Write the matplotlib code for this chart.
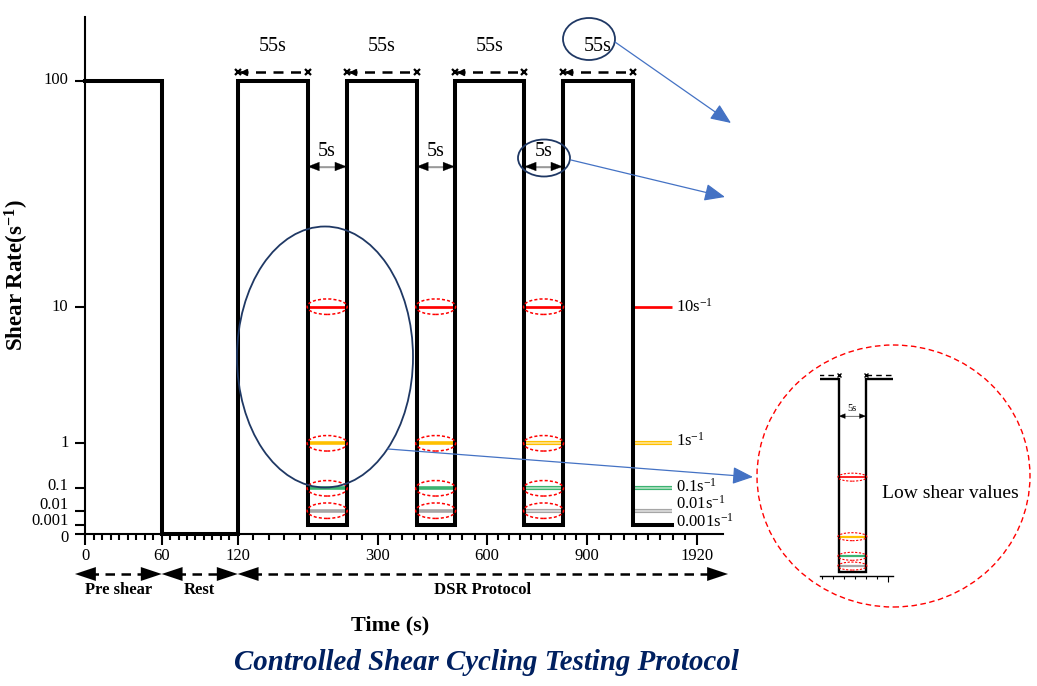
import numpy as np
import matplotlib
matplotlib.use('Agg')
import matplotlib.pyplot as plt
from matplotlib.patches import Ellipse, FancyArrowPatch
from matplotlib.transforms import ScaledTranslation, offset_copy, blended_transform_factory

# ---------------- data ----------------
x_tick_values = [0, 60, 120, 300, 600, 900, 1920]
x_tick_labels = ['0', '60', '120', '300', '600', '900', '1920']
y_tick_values = [0, 0.001, 0.01, 0.1, 1, 10, 100]
y_tick_labels = ['0', '0.001', '0.01', '0.1', '1', '10', '100']

preshear_rate = 100
preshear_end = 60
rest_rate = 0
pulse_on = [120, 260, 512, 827]
pulse_off = [210, 407, 713, 1327]
pulse_rate = 100
base_rate = 0.001
end_time = 1685
pulse_text = ['55s', '55s', '55s', '55s']
gap_text = ['5s', '5s', '5s']

low_rates = [10, 1, 0.1, 0.01]
low_colors = ['#ff0000', '#ffc000', '#3cb371', '#a6a6a6']
low_light = ['#ff0000', '#ffe699', '#b7e4c7', '#dedede']
rate_label_values = [10, 1, 0.1, 0.01, 0.001]
rate_labels = ['10s$^{-1}$', '1s$^{-1}$', '0.1s$^{-1}$', '0.01s$^{-1}$', '0.001s$^{-1}$']

phase_labels = ['Pre shear', 'Rest', 'DSR Protocol']
phase_start = [0, 60, 120]
phase_end = [60, 120, 1920]

# step profile built from the protocol
step_times = [0, preshear_end]
step_rates = [preshear_rate, rest_rate]
for on, off in zip(pulse_on, pulse_off):
    step_times += [on, off]
    step_rates += [pulse_rate, base_rate]
step_times.append(end_time)
step_rates.append(base_rate)

# ---------------- layout ----------------
W, H, DPI = 1037, 686, 100
AX_L, AX_B = 85.0, 533.5
AX_W, AX_H = 638.0, 516.5
X_MAP_V = [-100] + x_tick_values + [4000]
X_MAP_P = [-127.8, 0, 76.7, 152.7, 292.7, 401.7, 502.0, 612.0, 836.2]
Y_MAP_V = [-1] + y_tick_values + [1000]
Y_MAP_P = [-8500, 0, 8.5, 22.8, 45.2, 90.2, 226.8, 453.0, 679.2]
Y_LABEL_DY = [-4.5, 4, 5.5, 2, 0, 0, 0]
RATE_LABEL_DY = [0, 3, 2, 7, 3]


def fx(v):
    return np.interp(v, X_MAP_V, X_MAP_P)


def ix(p):
    return np.interp(p, X_MAP_P, X_MAP_V)


def fy(v):
    return np.interp(v, Y_MAP_V, Y_MAP_P)


def iy(p):
    return np.interp(p, Y_MAP_P, Y_MAP_V)


def P(x, y):
    return (x / W, 1 - y / H)


plt.rcParams['font.family'] = ['Liberation Serif', 'DejaVu Serif']
plt.rcParams['mathtext.fontset'] = 'custom'
plt.rcParams['mathtext.rm'] = 'Liberation Serif'
plt.rcParams['mathtext.it'] = 'Liberation Serif:italic'
plt.rcParams['mathtext.bf'] = 'Liberation Serif:bold'

fig = plt.figure(figsize=(W / DPI, H / DPI), dpi=DPI)
ax = fig.add_axes([AX_L / W, 1 - AX_B / H, AX_W / W, AX_H / H])
ax.set_xscale('function', functions=(fx, ix))
ax.set_yscale('function', functions=(fy, iy))
ax.patch.set_alpha(0)


def gap_center(g):
    return float(ix((fx(pulse_off[g]) + fx(pulse_on[g + 1])) / 2))


def pulse_center(p):
    return float(ix((fx(pulse_on[p]) + fx(pulse_off[p])) / 2))


def level_line(a, x0, x1, r, c, cl, lw, outline):
    if r == 10:
        a.plot([x0, x1], [r, r], color=c, lw=lw * 0.75, zorder=3, solid_capstyle='butt')
    elif outline:
        a.plot([x0, x1], [r, r], color=c, lw=lw + 0.4, zorder=3, solid_capstyle='butt')
        a.plot([x0, x1], [r, r], color=cl, lw=lw * 0.45, zorder=3, solid_capstyle='butt')
    else:
        a.plot([x0, x1], [r, r], color=c, lw=lw, zorder=3, solid_capstyle='butt')


def draw_protocol(a, gaps, pulses, st):
    a.plot(step_times, step_rates, drawstyle='steps-post', color='k', lw=st['lw'],
           solid_joinstyle='miter', clip_on=st['clip'], zorder=5)
    for g in gaps:
        x0, x1 = pulse_off[g], pulse_on[g + 1]
        cx = gap_center(g)
        for r, c, cl in zip(low_rates, low_colors, low_light):
            level_line(a, x0, x1, r, c, cl, st['col_lw'], g in st['outline_gaps'])
            e = Ellipse((0, 0), st['ell_w'] / DPI, st['ell_h'] / DPI,
                        transform=fig.dpi_scale_trans + ScaledTranslation(cx, r, a.transData),
                        fill=False, ec='#ff0000', lw=st['ell_lw'], ls=(0, (2, 1.4)), zorder=6)
            a.add_artist(e)
        tr_a = offset_copy(a.transData, fig=fig, y=st['gap_arrow_dy'], units='dots')
        a.plot([x0, x1], [pulse_rate] * 2, color='0.6', lw=st['gap_lw'], transform=tr_a, zorder=4)
        a.annotate('', xy=(x1, pulse_rate), xytext=(x0, pulse_rate), xycoords=tr_a, textcoords=tr_a,
                   arrowprops=dict(arrowstyle='<|-|>,head_length=0.9,head_width=0.35',
                                   mutation_scale=st['gap_ms'], color='k', lw=0.2,
                                   shrinkA=0, shrinkB=0), zorder=6)
        tr_t = offset_copy(a.transData, fig=fig, y=st['gap_text_dy'], units='dots')
        a.text(cx, pulse_rate, gap_text[g], transform=tr_t, ha='center', va='center',
               fontsize=st['gap_fs'])
    for p in pulses:
        tr_d = offset_copy(a.transData, fig=fig, y=st['dur_dy'], units='dots')
        a.plot([pulse_on[p], pulse_off[p]], [pulse_rate] * 2, color='k', lw=st['dur_lw'],
               ls=(0, (4, 3)), transform=tr_d, clip_on=st['clip'])
        a.plot([pulse_on[p], pulse_off[p]], [pulse_rate] * 2, ls='none', marker='x',
               ms=st['x_ms'], mew=st['x_mew'], color='k', transform=tr_d, clip_on=st['clip'])


main_style = dict(lw=2.9, col_lw=2.6, ell_w=40, ell_h=15.5, ell_lw=1.1, gap_arrow_dy=-86,
                  gap_text_dy=-71, gap_fs=14.5, gap_ms=9, gap_lw=1.0, dur_dy=9, dur_lw=1.8,
                  x_ms=5, x_mew=1.6, clip=False, outline_gaps=[2])
inset_style = dict(lw=1.7, col_lw=1.6, ell_w=29, ell_h=8, ell_lw=0.8, gap_arrow_dy=-37.5,
                   gap_text_dy=-30, gap_fs=7.5, gap_ms=5, gap_lw=0.6, dur_dy=3.7, dur_lw=1.0,
                   x_ms=3, x_mew=1.0, clip=True, outline_gaps=[])

draw_protocol(ax, [0, 1, 2], [0, 1, 2, 3], main_style)

# 55s labels and arrowheads on the duration lines
for p in range(len(pulse_on)):
    tr = offset_copy(ax.transData, fig=fig, y=34, units='dots')
    ax.text(pulse_center(p), pulse_rate, pulse_text[p], transform=tr, ha='center',
            va='center', fontsize=14.5)
    tr_h = offset_copy(ax.transData, fig=fig, x=6, y=9, units='dots')
    ax.plot([pulse_on[p]], [pulse_rate], marker='<', ms=5, color='k', transform=tr_h,
            clip_on=False)

# legend-like level lines at the right
for r, c, cl in zip(low_rates, low_colors, low_light):
    level_line(ax, pulse_off[-1], end_time, r, c, cl, 2.6, True)
for v, lab, dy in zip(rate_label_values, rate_labels, RATE_LABEL_DY):
    ax.text(end_time, v, lab, transform=offset_copy(ax.transData, fig=fig, x=4, y=dy, units='dots'),
            ha='left', va='center', fontsize=12)

# axes styling
for s in ['top', 'right']:
    ax.spines[s].set_visible(False)
for s in ['left', 'bottom']:
    ax.spines[s].set_linewidth(1.5)
ax.set_xticks(x_tick_values, x_tick_labels)
minor = []
for a0, a1 in zip(x_tick_values[:-1], x_tick_values[1:]):
    minor += list(np.linspace(a0, a1, 10)[1:-1])
ax.set_xticks(minor, minor=True)
ax.set_yticks(y_tick_values, [''] * len(y_tick_values))
ax.yaxis.set_minor_locator(matplotlib.ticker.NullLocator())
ax.tick_params(axis='x', which='major', length=8, width=1.5, pad=2.5, labelsize=12)
ax.tick_params(axis='x', which='minor', length=4.3, width=1.5)
ax.tick_params(axis='y', which='major', length=7.2, width=1.5)
ax.set_xlim(float(ix(0)), float(ix(AX_W)))
ax.set_ylim(float(iy(0)), float(iy(AX_H)))

ylab_tr = blended_transform_factory(ax.transAxes, ax.transData)
for v, lab, dy in zip(y_tick_values, y_tick_labels, Y_LABEL_DY):
    ax.text(0, v, lab, transform=offset_copy(ylab_tr, fig=fig, x=-16.5, y=dy, units='dots'),
            ha='right', va='center', fontsize=12)

# phase arrows below the axis
xtr = ax.get_xaxis_transform()
ph_pos0 = [fx(v) for v in phase_start]
ph_pos1 = [fx(v) for v in phase_end]
ph_pos0[0] -= 10
ph_pos1[-1] += 31
y_arrow = (AX_B - 574) / AX_H
y_text = (AX_B - 590) / AX_H
for p0, p1, lab in zip(ph_pos0, ph_pos1, phase_labels):
    xa, xb = float(ix(p0)), float(ix(p1))
    tr_l = offset_copy(xtr, fig=fig, x=0, y=0, units='dots')
    ax.plot([float(ix(p0 + 14)), float(ix(p1 - 14))], [y_arrow, y_arrow], color='k', lw=1.8,
            ls=(0, (3.8, 2.6)), transform=xtr, clip_on=False)
    ax.annotate('', xy=(xb, y_arrow), xytext=(xa, y_arrow),
                xycoords=xtr, textcoords=xtr,
                arrowprops=dict(arrowstyle='<|-|>,head_length=1.5,head_width=0.5',
                                mutation_scale=10, color='k', lw=0.01,
                                shrinkA=0, shrinkB=0))
    ax.text(float(ix((p0 + p1) / 2)), y_text, lab, transform=xtr, ha='center', va='center',
            fontsize=12, fontweight='bold')

# inset (zoomed low-shear gap)
ins = fig.add_axes([820 / W, 1 - 576 / H, 73 / W, 206 / H])
ins.set_xscale('function', functions=(fx, ix))
ins.set_yscale('function', functions=(fy, iy))
ins.patch.set_alpha(0)
for s in ['top', 'right', 'left']:
    ins.spines[s].set_visible(False)
ins.spines['bottom'].set_linewidth(1.0)
ins.set_xticks(x_tick_values, [''] * len(x_tick_values))
ins.set_xticks(minor, minor=True)
ins.tick_params(axis='x', which='major', length=4, width=0.8, labelbottom=False)
ins.tick_params(axis='x', which='minor', length=2.5, width=0.8)
ins.tick_params(axis='y', left=False, labelleft=False)
ins.yaxis.set_major_locator(matplotlib.ticker.NullLocator())
ins.yaxis.set_minor_locator(matplotlib.ticker.NullLocator())
ins.set_xlim(float(ix(196.4)), float(ix(299.7)))
ins.set_ylim(0, float(iy(472.7)))
draw_protocol(ins, [0], [0, 1], inset_style)
ins.set_xlim(float(ix(196.4)), float(ix(299.7)))
ins.set_ylim(0, float(iy(472.7)))


# figure-level annotations
def fig_ellipse(cx, cy, w, h, **kw):
    fig.add_artist(Ellipse(P(cx, cy), w / W, h / H, transform=fig.transFigure, fill=False, **kw))


def fig_arrow(x0, y0, x1, y1):
    fig.add_artist(FancyArrowPatch(P(x0, y0), P(x1, y1), transform=fig.transFigure,
                                   arrowstyle='-|>,head_length=0.9,head_width=0.38',
                                   mutation_scale=14, color='#4472c4', lw=0.9,
                                   shrinkA=0, shrinkB=0))


navy = '#1f3864'
fig_ellipse(325, 357, 176, 261, ec=navy, lw=1.3)
fig_ellipse(589, 39, 52, 42, ec=navy, lw=1.3)
fig_ellipse(544, 158, 52, 37, ec=navy, lw=1.3)
fig_arrow(615, 42, 731, 123)
fig_arrow(571, 160, 725, 197)
fig_arrow(388, 449, 753, 477)
fig_ellipse(893.5, 476, 273, 262, ec='#ff0000', lw=1.0, ls=(0, (4, 2.5)))
fig.text(*P(950, 493), 'Low shear values', ha='center', va='center', fontsize=14)

fig.text(*P(17, 275), 'Shear Rate(s$^{\\mathbf{-1}}$)', rotation=90, ha='center',
         va='center', fontsize=16.5, fontweight='bold')
fig.text(*P(390, 625), 'Time (s)', ha='center', va='center', fontsize=16, fontweight='bold')
fig.text(*P(486, 662), 'Controlled Shear Cycling Testing Protocol', ha='center', va='center',
         fontsize=20.8, fontweight='bold', style='italic', color='#002060')

fig.savefig('out.png', dpi=DPI)
